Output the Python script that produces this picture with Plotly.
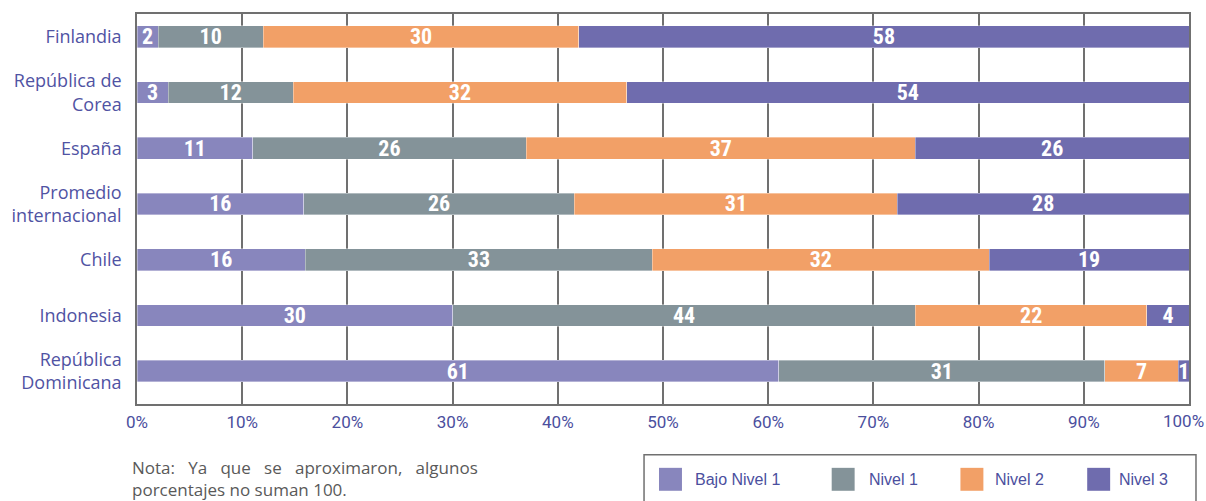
import plotly.graph_objects as go

categories = ["Finlandia", "República de<br>Corea", "España", "Promedio<br>internacional",
              "Chile", "Indonesia", "República<br>Dominicana"]
series_names = ["Bajo Nivel 1", "Nivel 1", "Nivel 2", "Nivel 3"]
bajo_nivel_1 = [2, 3, 11, 16, 16, 30, 61]
nivel_1 = [10, 12, 26, 26, 33, 44, 31]
nivel_2 = [30, 32, 37, 31, 32, 22, 7]
nivel_3 = [58, 54, 26, 28, 19, 4, 1]
x_ticks = [0, 10, 20, 30, 40, 50, 60, 70, 80, 90, 100]
x_tick_labels = [f"{v}%" for v in x_ticks]
colors = ["#8886bd", "#849399", "#f2a067", "#6f6cae"]
gap = " \u00a0\u00a0"
note = ("Nota:" + gap + "Ya" + gap + "que" + gap + "se" + gap + "aproximaron," + gap + "algunos<br>"
        "porcentajes no suman 100.")

W, H = 1206, 501
L, R, T, B = 135, 1189, 13, 404


def px(x):
    return (x - L) / (R - L)


def py(y):
    return (B - y) / (B - T)


fig = go.Figure()
for name, vals, col in zip(series_names, [bajo_nivel_1, nivel_1, nivel_2, nivel_3], colors):
    fig.add_trace(go.Bar(
        y=categories, x=vals, name=name, orientation="h",
        marker=dict(color=col, line=dict(color="rgba(255,255,255,0.6)", width=0.6)),
        width=0.39,
        text=vals, texttemplate="%{text}", textposition="inside",
        insidetextanchor="middle", textangle=0, constraintext="none",
        textfont=dict(family="Roboto Condensed, Liberation Sans Narrow, Roboto, sans-serif",
                      size=22, color="white", weight="bold"),
        showlegend=False,
    ))

grid_col = "#707070"
tick_font = dict(family="Roboto", size=17, color="#4b4f9e")
# last tick label would spill past the page edge: it is drawn as an annotation pinned to the axis
axis_tick_text = x_tick_labels[:-1] + [""]
fig.update_layout(
    width=W, height=H,
    barmode="stack", barnorm="percent",
    margin=dict(l=L, r=W - R, t=T, b=H - B),
    plot_bgcolor="white", paper_bgcolor="white",
    showlegend=False,
    xaxis=dict(range=[0, 100], tickvals=x_ticks, ticktext=axis_tick_text,
               showgrid=True, gridcolor=grid_col, gridwidth=1.5,
               showline=True, linecolor=grid_col, linewidth=1.5, mirror=True,
               ticks="outside", ticklen=2, tickcolor="rgba(0,0,0,0)",
               tickfont=tick_font,
               zeroline=False, fixedrange=True),
    yaxis=dict(range=[6.59, -0.41], categoryorder="array", categoryarray=categories,
               showgrid=False, showline=True, linecolor=grid_col, linewidth=1.5, mirror=True,
               ticks="outside", ticklen=10, tickcolor="rgba(0,0,0,0)",
               tickfont=dict(family="Open Sans", size=18, color="#5053a3"),
               zeroline=False, fixedrange=True),
)

# Legend drawn as a boxed row
shapes = [dict(type="rect", xref="paper", yref="paper",
               x0=px(643), x1=px(1196), y0=py(503), y1=py(455),
               line=dict(color=grid_col, width=1.5), fillcolor="white", layer="above")]
annotations = []
sq_x = [658, 831, 960, 1087]
tx_x = [692, 866, 993, 1117]
for name, col, sx, tx in zip(series_names, colors, sq_x, tx_x):
    shapes.append(dict(type="rect", xref="paper", yref="paper",
                       x0=px(sx), x1=px(sx + 23), y0=py(491), y1=py(468),
                       line=dict(width=0), fillcolor=col, layer="above"))
    annotations.append(dict(xref="paper", yref="paper", x=px(tx), y=py(480),
                            xanchor="left", yanchor="middle", showarrow=False,
                            text=name, font=dict(family="Liberation Sans", size=16, color="#4b4f9e")))

annotations.append(dict(xref="x", yref="paper", x=x_ticks[-1], y=0,
                        xanchor="center", yanchor="middle", xshift=-6, yshift=-17,
                        showarrow=False, text=x_tick_labels[-1], font=tick_font))

annotations.append(dict(xref="paper", yref="paper", x=px(128), y=py(454),
                        xanchor="left", yanchor="top", align="left", showarrow=False,
                        text=note, font=dict(family="Open Sans", size=17, color="#595959")))

fig.update_layout(shapes=shapes, annotations=annotations)
fig.write_html("out.html", post_script="document.body.style.margin='0px';",
               config={"displayModeBar": False})
